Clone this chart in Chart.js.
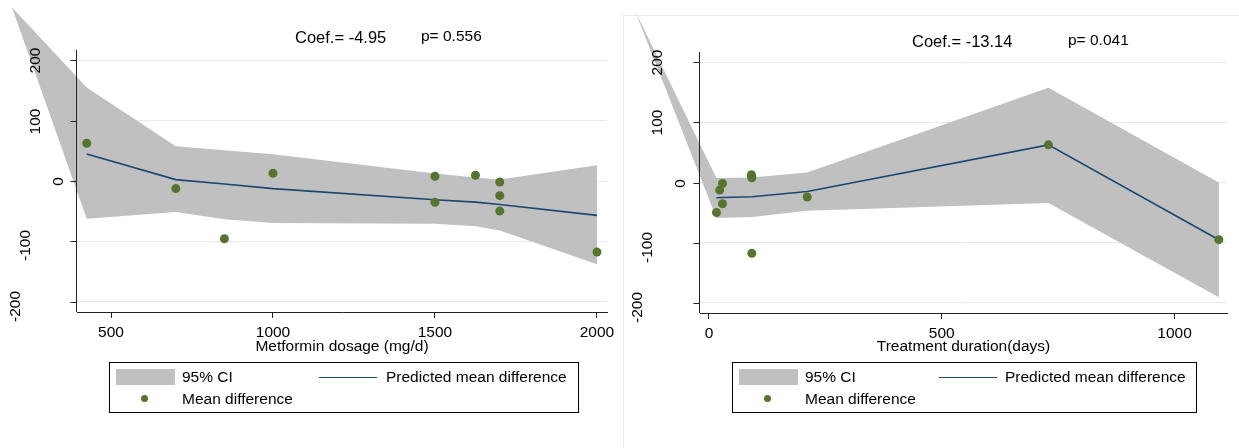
<!DOCTYPE html>
<html>
<head>
<meta charset="utf-8">
<script src="https://cdn.jsdelivr.net/npm/chart.js@4.4.1/dist/chart.umd.min.js"></script>
<style>
  body { margin: 0; background: #fff; }
  #page { position: relative; width: 1239px; height: 448px; overflow: hidden; font-family: 'Liberation Sans', Arial, sans-serif; color: #000; }
  canvas { position: absolute; top: 0; }
  .note { position: absolute; line-height: 1; white-space: nowrap; }
  .frame { position: absolute; left: 623px; top: 15px; right: 0; bottom: 0; border-left: 1px solid #e6eaeb; border-top: 1px solid #e6eaeb; }
  .legend { position: absolute; border: 1px solid #000; box-sizing: border-box; }
  .legend div { position: absolute; }
  .legend .txt { font-size: 15.5px; line-height: 18px; white-space: nowrap; }
  .legend .swatch { width: 59px; height: 16px; background: #c0c0c0; }
  .legend .seg { height: 0; border-top: 1.5px solid #1a476f; }
  .legend .dot { width: 7px; height: 7px; border-radius: 50%; background: #55752f; }
</style>
</head>
<body>
<div id="page">
  <div class="frame"></div>
  <canvas id="dosageChart" width="620" height="448" style="left:0"></canvas>
  <canvas id="durationChart" width="619" height="448" style="left:620px"></canvas>

  <div class="note" style="left:295px;top:29px;font-size:16.5px">Coef.= -4.95</div>
  <div class="note" style="left:421px;top:28px;font-size:15.5px">p= 0.556</div>
  <div class="note" style="left:912px;top:33px;font-size:16.5px">Coef.= -13.14</div>
  <div class="note" style="left:1068px;top:32px;font-size:15.5px">p= 0.041</div>

  <div class="legend" id="dosageLegend" style="left:109px;top:362px;width:470px;height:51px"></div>
  <div class="legend" id="durationLegend" style="left:732px;top:362px;width:465px;height:51px"></div>
</div>

<script>
// values
const dosage = [425, 700, 850, 1000, 1500, 1500, 1625, 1700, 1700, 1700, 2000];
const dosageDiff = [62.5, -12.6, -95.6, 12.8, 7.8, -35.3, 9.5, -1.7, -24.3, -49.8, -117.8];
const dosageFitX = [425, 700, 850, 1000, 1500, 1625, 1700, 2000];
const dosageFit = [44.8, 2.3, -5, -12.6, -31, -35, -39, -57];
const dosageCiX = [194, 425, 700, 850, 1000, 1500, 1625, 1700, 2000];
const dosageCiHigh = [288, 155, 57.6, 51, 44.3, 12.3, 5.6, 2.3, 26];
const dosageCiLow = [288, -62.4, -51.4, -63.5, -69.7, -70.7, -75, -81.8, -138];
const dosageTicks = [500, 1000, 1500, 2000];

const duration = [16, 23, 29, 29, 91, 92, 92, 92, 211, 729, 1095];
const durationDiff = [-49.8, -12.6, -1.7, -35.4, 12.8, 9.5, 7.8, -117.8, -24.2, 62.6, -95.1];
const durationFitX = [16, 29, 92, 211, 729, 1095];
const durationFit = [-25.4, -25, -23.7, -14.9, 62.6, -95.1];
const durationCiX = [-159, 16, 92, 211, 729, 1095];
const durationCiHigh = [285.5, 7.3, 8.3, 16.6, 157.7, 0];
const durationCiLow = [285.5, -59.2, -57.5, -47, -34.2, -190.8];
const durationTicks = [0, 500, 1000];

const diffTicks = [-200, -100, 0, 100, 200];

const FONT = "'Liberation Sans', Arial, sans-serif";
const pts = (xs, ys) => xs.map((x, i) => ({ x, y: ys[i] }));

// stata lets the CI area run outside the plot region, so fill it by hand
// (the filler plugin clips to chartArea) and put the y axis back on top
const ciBand = {
  id: 'ciBand',
  beforeDatasetsDraw(chart, args, opts) {
    const ctx = chart.ctx;
    const high = chart.getDatasetMeta(opts.high).data;
    const low = chart.getDatasetMeta(opts.low).data;
    ctx.save();
    ctx.beginPath();
    high.forEach((p, i) => (i ? ctx.lineTo(p.x, p.y) : ctx.moveTo(p.x, p.y)));
    for (let i = low.length - 1; i >= 0; i--) ctx.lineTo(low[i].x, low[i].y);
    ctx.closePath();
    ctx.fillStyle = '#c0c0c0';
    ctx.fill();

    const { left, top, bottom } = chart.chartArea;
    const yScale = chart.scales.y;
    const ax = Math.round(left) - 0.5;
    ctx.strokeStyle = '#222';
    ctx.lineWidth = 1;
    ctx.beginPath();
    ctx.moveTo(ax, top);
    ctx.lineTo(ax, bottom);
    ctx.stroke();

    ctx.font = '15.5px ' + FONT;
    ctx.fillStyle = '#000';
    ctx.textAlign = 'center';
    ctx.textBaseline = 'middle';
    const w0 = ctx.measureText('0').width;
    diffTicks.forEach((v) => {
      const py = Math.round(yScale.getPixelForValue(v)) + 0.5;
      ctx.beginPath();
      ctx.moveTo(ax - 6, py);
      ctx.lineTo(ax, py);
      ctx.stroke();
      const label = String(v);
      const w = ctx.measureText(label).width;
      let off = opts.labelBase + 1.3 * (w - w0);
      if (v < 0) off += 9.5 * (-v / 100) - 5.5;
      ctx.save();
      ctx.translate(ax - off, py + (v < 0 ? 4 : 0));
      ctx.rotate(-Math.PI / 2);
      ctx.fillText(label, 0, 0);
      ctx.restore();
    });
    ctx.restore();
  },
};

function makeChart(id, cfg) {
  return new Chart(document.getElementById(id), {
    type: 'scatter',
    data: {
      datasets: [
        {
          label: 'Mean difference',
          data: pts(cfg.x, cfg.diff),
          backgroundColor: '#55752f',
          borderColor: '#55752f',
          pointRadius: 4.5,
          pointBorderWidth: 0,
        },
        {
          type: 'line',
          label: 'Predicted mean difference',
          data: pts(cfg.fitX, cfg.fit),
          borderColor: '#1a476f',
          borderWidth: 1.6,
          pointRadius: 0,
          fill: false,
          tension: 0,
        },
        { label: 'ci high', data: pts(cfg.ciX, cfg.ciHigh), pointRadius: 0 },
        { label: 'ci low', data: pts(cfg.ciX, cfg.ciLow), pointRadius: 0 },
      ],
    },
    options: {
      responsive: false,
      animation: false,
      events: [],
      layout: { padding: { top: cfg.top, right: cfg.right, left: 0, bottom: 0 } },
      plugins: {
        legend: { display: false },
        tooltip: { enabled: false },
        ciBand: { high: 2, low: 3, labelBase: cfg.labelBase },
      },
      scales: {
        x: {
          type: 'linear',
          min: cfg.xMin,
          max: cfg.xMax,
          afterBuildTicks: (s) => { s.ticks = cfg.xTicks.map((v) => ({ value: v })); },
          afterFit: (s) => { s.height = 448 - cfg.bottom; },
          grid: { drawOnChartArea: false, tickLength: 6, tickColor: '#222' },
          border: { color: '#222' },
          ticks: {
            color: '#000',
            padding: 5,
            maxRotation: 0,
            autoSkip: false,
            font: { family: FONT, size: 15.5 },
            callback: (v) => String(v),
          },
          title: {
            display: true,
            text: cfg.title,
            color: '#000',
            font: { family: FONT, size: 15.5 },
            padding: { top: 0, bottom: 92 },
          },
        },
        y: {
          min: -217,
          max: 217,
          afterBuildTicks: (s) => { s.ticks = diffTicks.map((v) => ({ value: v })); },
          afterFit: (s) => { s.width = cfg.left; },
          grid: { color: '#e3ebee', drawTicks: false },
          border: { display: false },
          ticks: { display: false },
        },
      },
    },
    plugins: [ciBand],
  });
}

makeChart('dosageChart', {
  x: dosage, diff: dosageDiff, fitX: dosageFitX, fit: dosageFit,
  ciX: dosageCiX, ciHigh: dosageCiHigh, ciLow: dosageCiLow,
  xTicks: dosageTicks, xMin: 395, xMax: 2031,
  title: 'Metformin dosage (mg/d)',
  left: 77, top: 50, right: 13, bottom: 312, labelBase: 18,
});

makeChart('durationChart', {
  x: duration, diff: durationDiff, fitX: durationFitX, fit: durationFit,
  ciX: durationCiX, ciHigh: durationCiHigh, ciLow: durationCiLow,
  xTicks: durationTicks, xMin: -19.3, xMax: 1112.6,
  title: 'Treatment duration(days)',
  left: 80, top: 52, right: 12, bottom: 313, labelBase: 19,
});

function buildLegend(id, lineX, predX) {
  const box = document.getElementById(id);
  box.innerHTML = `
    <div class="swatch" style="left:6px;top:6px"></div>
    <div class="txt" style="left:72px;top:5px">95% CI</div>
    <div class="seg" style="left:${lineX}px;top:14px;width:58px"></div>
    <div class="txt" style="left:${predX}px;top:5px">Predicted mean difference</div>
    <div class="dot" style="left:31px;top:32px"></div>
    <div class="txt" style="left:72px;top:27px">Mean difference</div>
  `;
}

buildLegend('dosageLegend', 209, 276);
buildLegend('durationLegend', 206, 272);
</script>
</body>
</html>
